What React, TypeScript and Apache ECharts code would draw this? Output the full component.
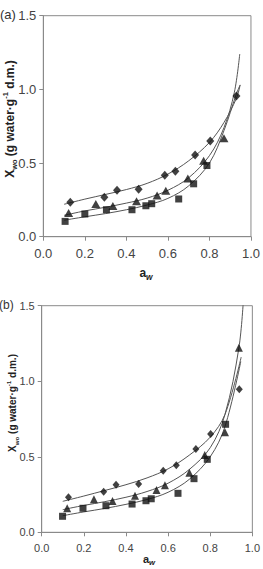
import React, { useEffect, useRef } from "react";
import * as echarts from "echarts";

// ---- Panel (a) measured points ----
const diaAwA = [0.13, 0.294, 0.355, 0.459, 0.585, 0.636, 0.731, 0.804, 0.93];
const diaXA = [0.233, 0.267, 0.315, 0.322, 0.417, 0.444, 0.555, 0.65, 0.955];
const triAwA = [0.122, 0.253, 0.335, 0.449, 0.548, 0.59, 0.696, 0.772, 0.87];
const triXA = [0.161, 0.222, 0.208, 0.24, 0.28, 0.312, 0.395, 0.515, 0.668];
const sqAwA = [0.105, 0.2, 0.304, 0.427, 0.494, 0.522, 0.652, 0.724, 0.788];
const sqXA = [0.104, 0.154, 0.183, 0.183, 0.21, 0.224, 0.256, 0.359, 0.483];

// ---- Panel (a) fitted curves ----
const fitDiaAwA = [0.1, 0.2, 0.3, 0.4, 0.5, 0.6, 0.7, 0.8, 0.87, 0.93, 0.948];
const fitDiaXA = [0.22, 0.255, 0.287, 0.32, 0.362, 0.425, 0.515, 0.64, 0.775, 0.94, 1.03];
const fitTriAwA = [0.1, 0.2, 0.3, 0.4, 0.5, 0.6, 0.7, 0.8, 0.87, 0.92, 0.946];
const fitTriXA = [0.145, 0.175, 0.2, 0.228, 0.262, 0.315, 0.4, 0.55, 0.74, 0.98, 1.24];
const fitSqAwA = [0.1, 0.2, 0.3, 0.4, 0.5, 0.6, 0.7, 0.8, 0.87, 0.93, 0.948];
const fitSqXA = [0.112, 0.135, 0.157, 0.183, 0.215, 0.26, 0.345, 0.5, 0.72, 0.97, 1.03];

// ---- Panel (b) measured points ----
const diaAwB = [0.127, 0.294, 0.353, 0.46, 0.577, 0.639, 0.732, 0.802, 0.938];
const diaXB = [0.232, 0.269, 0.315, 0.32, 0.408, 0.444, 0.552, 0.651, 0.947];
const triAwB = [0.121, 0.248, 0.336, 0.443, 0.545, 0.585, 0.701, 0.774, 0.87, 0.936];
const triXB = [0.159, 0.218, 0.207, 0.242, 0.28, 0.311, 0.395, 0.512, 0.662, 1.222];
const sqAwB = [0.099, 0.196, 0.305, 0.429, 0.495, 0.52, 0.647, 0.723, 0.786, 0.873];
const sqXB = [0.106, 0.159, 0.176, 0.187, 0.209, 0.222, 0.258, 0.355, 0.483, 0.715];

// ---- Panel (b) fitted curves ----
const fitDiaAwB = [0.1, 0.2, 0.3, 0.4, 0.5, 0.6, 0.7, 0.8, 0.87, 0.947];
const fitDiaXB = [0.205, 0.24, 0.277, 0.315, 0.36, 0.42, 0.51, 0.63, 0.78, 1.16];
const fitTriAwB = [0.1, 0.2, 0.3, 0.4, 0.5, 0.6, 0.7, 0.8, 0.87, 0.936, 0.958];
const fitTriXB = [0.15, 0.178, 0.203, 0.232, 0.27, 0.325, 0.415, 0.56, 0.78, 1.22, 1.55];
const fitSqAwB = [0.1, 0.2, 0.3, 0.4, 0.5, 0.6, 0.7, 0.8, 0.87, 0.945];
const fitSqXB = [0.11, 0.135, 0.158, 0.185, 0.217, 0.265, 0.35, 0.5, 0.7, 1.13];

const xTicks = [0, 0.2, 0.4, 0.6, 0.8, 1.0];
const yTicks = [0, 0.5, 1.0, 1.5];

const zip = (a: number[], b: number[]) => a.map((v, i) => [v, b[i]]);

const FONT = "'Liberation Sans', Arial, sans-serif";
const AXIS_COLOR = "#8a8a8a";
const LABEL_COLOR = "#444";

export default function App() {
  const ref = useRef<HTMLDivElement>(null);
  useEffect(() => {
    document.body.style.margin = "0";
    const chart = echarts.init(ref.current!, null, { renderer: "svg" });

    const mkX = (gi: number, fs: number) => ({
      gridIndex: gi,
      type: "value",
      min: xTicks[0],
      max: xTicks[xTicks.length - 1],
      interval: 0.2,
      axisLine: { show: true, lineStyle: { color: AXIS_COLOR, width: 1 } },
      axisTick: { show: true, inside: false, length: 4, lineStyle: { color: AXIS_COLOR } },
      axisLabel: {
        formatter: (v: number) => v.toFixed(1),
        fontSize: fs,
        color: LABEL_COLOR,
        fontFamily: FONT,
        margin: 10,
      },
      splitLine: { show: false },
    });
    const mkY = (gi: number, fs: number) => ({
      gridIndex: gi,
      type: "value",
      min: yTicks[0],
      max: yTicks[yTicks.length - 1],
      interval: 0.5,
      axisLine: { show: true, lineStyle: { color: AXIS_COLOR, width: 1 } },
      axisTick: { show: true, inside: false, length: 4, lineStyle: { color: AXIS_COLOR } },
      axisLabel: {
        formatter: (v: number) => v.toFixed(1),
        fontSize: fs,
        color: LABEL_COLOR,
        fontFamily: FONT,
        margin: 7,
      },
      splitLine: { show: false },
    });

    const lineS = (gi: number, aw: number[], x: number[]) => ({
      type: "line",
      xAxisIndex: gi,
      yAxisIndex: gi,
      data: zip(aw, x),
      smooth: 0.35,
      symbol: "none",
      showSymbol: false,
      lineStyle: { color: "#555", width: 1 },
      z: 2,
    });
    const scat = (gi: number, aw: number[], x: number[], symbol: string, size: any) => ({
      type: "scatter",
      xAxisIndex: gi,
      yAxisIndex: gi,
      data: zip(aw, x),
      symbol,
      symbolSize: size,
      itemStyle: { color: "#111" },
      z: 3,
    });

    const yTitle = (x: number, y: number, fs: number) => ({
      type: "text",
      x,
      y,
      rotation: Math.PI / 2,
      style: {
        text: "{b|X}{sub|wo}{b| (g water·g}{sup|-1}{b| d.m.)}",
        align: "center",
        verticalAlign: "middle",
        rich: {
          b: { fontSize: fs, fontWeight: "bold", fontFamily: FONT, fill: "#222", lineHeight: fs + 4 },
          sub: {
            fontSize: fs * 0.62,
            fontWeight: "bold",
            fontFamily: FONT,
            fill: "#222",
            verticalAlign: "bottom",
            lineHeight: fs + 4,
          },
          sup: {
            fontSize: fs * 0.62,
            fontWeight: "bold",
            fontFamily: FONT,
            fill: "#222",
            verticalAlign: "top",
            lineHeight: fs + 4,
          },
        },
      },
    });
    const xTitle = (x: number, y: number, fs: number) => ({
      type: "text",
      x,
      y,
      style: {
        text: "{b|a}{sub|w}",
        align: "center",
        verticalAlign: "middle",
        rich: {
          b: { fontSize: fs, fontWeight: "bold", fontFamily: FONT, fill: "#222", lineHeight: fs + 4 },
          sub: {
            fontSize: fs * 0.7,
            fontWeight: "bold",
            fontStyle: "italic",
            fontFamily: FONT,
            fill: "#222",
            verticalAlign: "bottom",
            lineHeight: fs + 4,
          },
        },
      },
    });

    chart.setOption({
      animation: false,
      backgroundColor: "#fff",
      grid: [
        { left: 43.3, top: 15.7, width: 210.7, height: 221, show: true, borderColor: AXIS_COLOR, borderWidth: 1, containLabel: false },
        { left: 41.7, top: 305.7, width: 215.3, height: 226.6, show: true, borderColor: AXIS_COLOR, borderWidth: 1, containLabel: false },
      ],
      xAxis: [mkX(0, 13), mkX(1, 11)],
      yAxis: [mkY(0, 13), mkY(1, 11)],
      series: [
        lineS(0, fitDiaAwA, fitDiaXA),
        lineS(0, fitTriAwA, fitTriXA),
        lineS(0, fitSqAwA, fitSqXA),
        scat(0, diaAwA, diaXA, "diamond", [8, 9]),
        scat(0, triAwA, triXA, "triangle", [9, 8]),
        scat(0, sqAwA, sqXA, "rect", 7),
        lineS(1, fitDiaAwB, fitDiaXB),
        lineS(1, fitTriAwB, fitTriXB),
        lineS(1, fitSqAwB, fitSqXB),
        scat(1, diaAwB, diaXB, "diamond", [7, 8]),
        scat(1, triAwB, triXB, "triangle", [8, 8]),
        scat(1, sqAwB, sqXB, "rect", 7),
      ],
      graphic: [
        {
          type: "text",
          left: 0,
          top: 8,
          style: { text: "(a)", fontSize: 13, fontFamily: FONT, fill: "#333" },
        },
        {
          type: "text",
          left: -1,
          top: 299,
          style: { text: "(b)", fontSize: 12, fontFamily: FONT, fill: "#333" },
        },
        yTitle(10, 119, 12),
        yTitle(12, 403, 10),
        xTitle(146, 273, 12),
        xTitle(149, 559, 11),
      ],
    });
    return () => chart.dispose();
  }, []);
  return (
    <div
      ref={ref}
      style={{ position: "absolute", left: 0, top: 0, width: 263, height: 569 }}
    />
  );
}
